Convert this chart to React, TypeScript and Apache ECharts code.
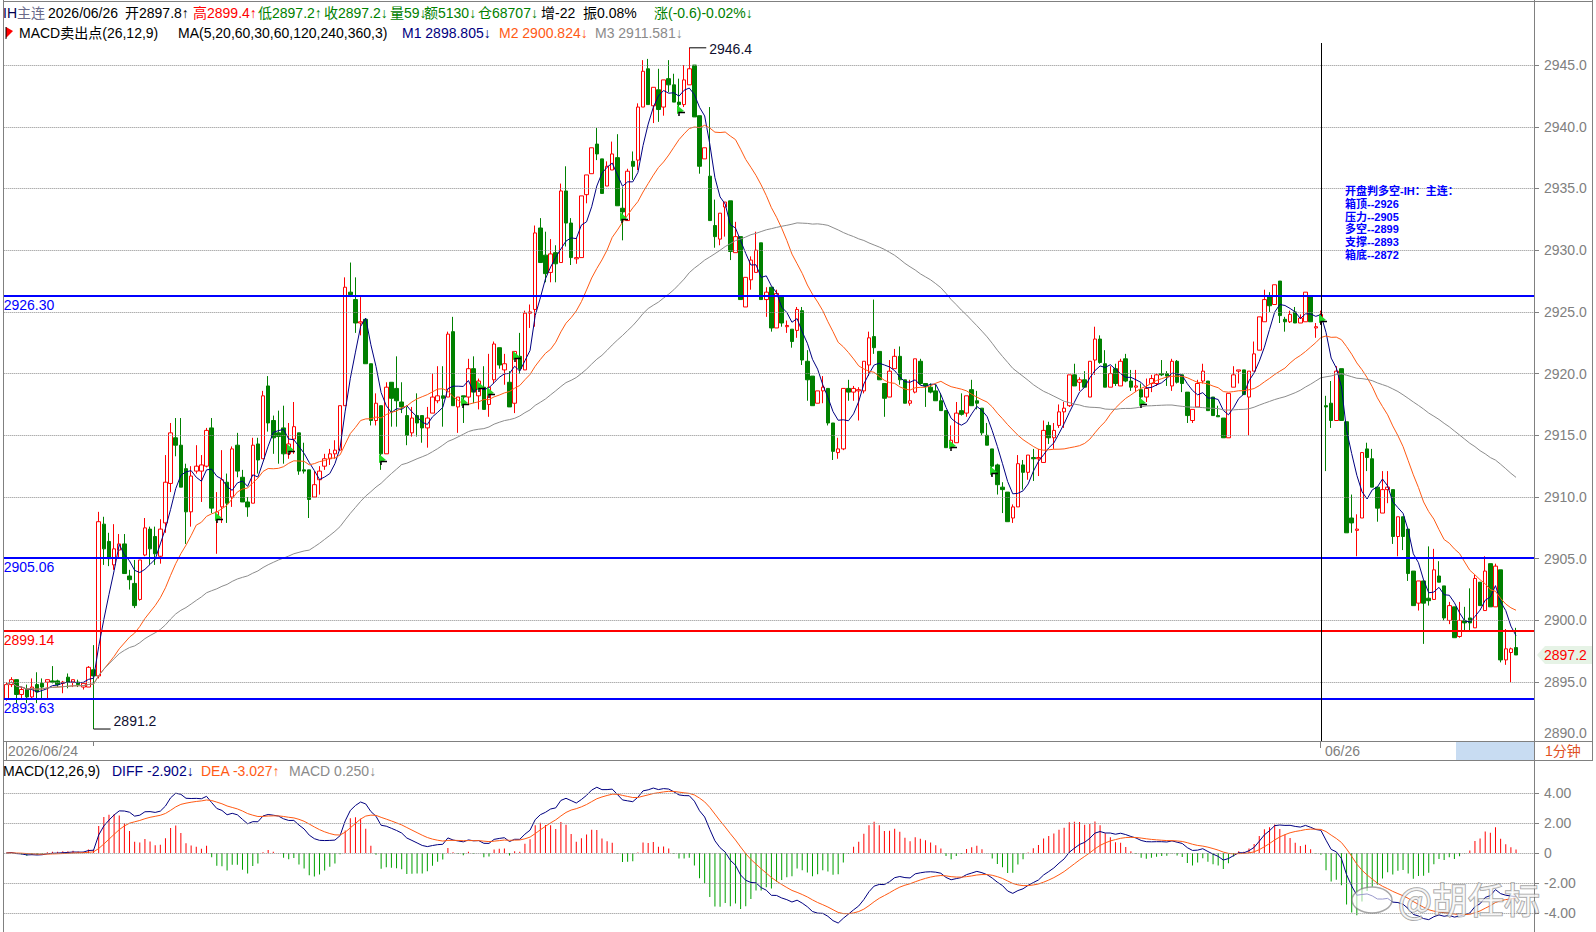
import React, { useEffect, useRef } from "react";
import * as echarts from "echarts";

// ---------- DATA ----------
const opens = [
2893.6,2894.8,2895.2,2894.0,2894.4,2893.8,2894.8,2894.9,2895.0,2895.1,
2895.1,2894.9,2895.4,2895.0,2895.0,2894.6,2894.6,2896.0,2895.5,2907.8,
2906.4,2904.5,2905.7,2906.2,2903.6,2903.0,2901.7,2905.3,2907.4,2906.8,
2905.2,2907.9,2911.1,2914.8,2914.2,2912.3,2908.8,2912.1,2912.1,2912.5,
2915.6,2908.4,2909.2,2911.2,2910.0,2914.2,2911.6,2909.6,2909.5,2914.3,
2913.1,2919.0,2916.2,2915.2,2915.6,2913.5,2914.7,2915.2,2912.2,2912.2,
2910.0,2911.4,2912.5,2913.1,2913.5,2913.8,2917.4,2926.6,2926.0,2924.1,
2924.4,2920.8,2916.2,2917.4,2913.5,2919.3,2918.8,2917.7,2916.6,2915.2,
2916.6,2916.6,2915.6,2916.8,2917.8,2918.2,2918.1,2923.4,2917.3,2918.2,
2918.1,2920.4,2918.2,2918.9,2917.5,2919.5,2922.1,2920.3,2919.3,2917.6,
2921.4,2920.3,2924.9,2925.2,2931.8,2929.6,2928.2,2929.8,2929.0,2934.8,
2932.2,2929.3,2929.4,2934.5,2936.2,2938.6,2937.4,2935.2,2936.5,2937.5,
2933.4,2932.4,2937.2,2937.3,2941.6,2944.7,2941.7,2943.0,2941.6,2943.9,
2943.4,2942.0,2941.8,2943.4,2945.0,2940.9,2937.4,2936.0,2932.0,2930.9,
2933.5,2934.0,2929.8,2931.1,2925.4,2927.6,2928.2,2930.6,2926.0,2927.0,
2923.7,2926.2,2923.8,2923.6,2923.5,2925.1,2921.0,2919.8,2917.6,2918.6,
2918.8,2916.0,2913.6,2913.9,2918.8,2918.5,2918.6,2918.6,2920.7,2923.0,
2921.8,2919.2,2918.1,2920.4,2921.4,2919.5,2917.6,2918.5,2921.0,2919.2,
2918.9,2918.6,2917.8,2917.0,2914.0,2914.4,2917.0,2916.8,2918.7,2917.8,
2917.2,2915.0,2913.9,2912.6,2910.8,2910.4,2908.3,2909.2,2912.6,2912.0,
2913.2,2913.1,2912.8,2915.8,2914.8,2915.8,2916.9,2917.4,2919.9,2919.3,
2919.5,2918.1,2921.1,2922.8,2920.8,2918.9,2920.4,2919.0,2921.2,2919.4,
2918.9,2918.7,2918.1,2919.2,2919.2,2920.0,2920.0,2919.0,2921.0,2919.9,
2918.5,2916.2,2917.3,2919.4,2919.4,2918.1,2916.6,2916.4,2914.8,2918.9,
2920.2,2920.3,2918.1,2920.2,2921.9,2924.2,2926.3,2925.6,2927.5,2924.4,
2924.2,2925.0,2924.1,2924.2,2926.3,2923.7,2924.2,2917.4,2917.6,2916.2,
2920.4,2916.1,2908.3,2907.3,2908.3,2913.9,2913.1,2910.8,2908.7,2910.6,
2910.6,2906.8,2908.4,2907.4,2904.0,2901.4,2903.2,2901.8,2901.7,2903.6,
2902.8,2900.0,2901.1,2898.7,2900.0,2900.2,2899.4,2903.1,2900.8,2904.6,
2901.1,2904.1,2896.8,2897.4,2897.8
];

const closes = [
2894.8,2895.2,2894.0,2894.4,2893.8,2894.6,2894.2,2894.6,2895.2,2895.0,
2894.8,2895.0,2895.0,2895.2,2894.8,2894.9,2896.2,2895.5,2908.0,2905.8,
2905.0,2905.8,2906.2,2903.8,2903.3,2901.2,2904.9,2907.5,2905.8,2905.4,
2907.4,2911.2,2915.2,2914.2,2910.8,2908.8,2911.7,2912.5,2912.6,2915.4,
2909.1,2908.8,2911.4,2909.5,2913.9,2912.1,2909.6,2909.2,2914.2,2913.0,
2918.2,2916.0,2914.8,2914.9,2913.5,2914.3,2915.7,2912.1,2912.1,2909.8,
2911.0,2912.1,2913.1,2913.5,2913.8,2917.4,2927.0,2926.4,2924.1,2924.2,
2920.8,2916.2,2917.6,2913.5,2918.9,2918.0,2917.8,2917.3,2915.0,2916.4,
2916.0,2915.6,2916.4,2918.1,2918.2,2918.0,2923.2,2917.4,2918.1,2918.1,
2920.4,2918.5,2919.4,2917.1,2918.9,2922.4,2920.7,2920.8,2917.3,2921.8,
2920.4,2924.9,2925.0,2931.4,2929.0,2928.1,2929.7,2928.9,2934.8,2932.2,
2929.4,2929.4,2934.4,2936.1,2938.3,2937.8,2934.6,2936.8,2937.8,2933.6,
2933.1,2936.4,2936.8,2941.6,2944.5,2941.8,2943.2,2941.4,2943.8,2943.4,
2942.0,2941.8,2943.8,2944.7,2940.8,2936.8,2938.3,2932.4,2931.1,2933.0,
2933.9,2929.9,2931.1,2926.0,2927.8,2929.2,2930.0,2926.0,2926.6,2923.7,
2926.5,2924.1,2923.9,2922.6,2925.2,2921.1,2919.5,2917.4,2918.6,2918.9,
2916.0,2913.7,2913.9,2918.8,2918.5,2918.8,2918.7,2921.0,2922.9,2922.1,
2919.5,2918.0,2920.2,2921.4,2919.5,2917.6,2917.8,2921.2,2919.2,2919.0,
2918.5,2917.8,2917.0,2914.0,2914.6,2916.8,2916.7,2918.2,2917.4,2917.6,
2915.2,2914.2,2912.5,2911.0,2910.6,2908.0,2909.2,2912.7,2912.0,2913.4,
2913.1,2913.2,2915.4,2914.8,2915.4,2916.9,2917.2,2919.9,2919.0,2919.5,
2918.9,2921.0,2922.8,2920.9,2918.9,2920.0,2919.2,2921.0,2919.4,2918.9,
2919.0,2918.1,2918.8,2919.6,2919.9,2919.9,2919.8,2921.0,2919.3,2919.2,
2916.6,2917.1,2919.2,2920.2,2917.0,2916.6,2916.5,2914.8,2918.4,2919.9,
2920.3,2918.3,2920.2,2921.6,2924.6,2926.0,2925.5,2927.2,2924.7,2924.2,
2924.8,2924.1,2924.5,2926.6,2924.2,2923.8,2924.8,2917.3,2916.2,2920.2,
2916.2,2907.1,2907.9,2907.4,2913.6,2913.2,2910.8,2909.1,2910.6,2910.8,
2906.8,2908.4,2906.8,2903.8,2901.2,2903.2,2901.4,2901.6,2904.1,2903.1,
2900.2,2901.2,2898.6,2900.0,2899.8,2899.8,2903.4,2901.2,2904.0,2901.1,
2904.4,2896.8,2897.7,2897.7,2897.2
];

const lows = [
2893.5,2894.6,2893.3,2893.7,2893.3,2893.7,2893.3,2893.7,2893.6,2894.9,
2894.6,2894.1,2894.5,2894.6,2894.6,2894.4,2894.6,2891.2,2895.3,2904.5,
2904.4,2904.1,2905.0,2903.8,2902.5,2901.0,2901.6,2905.2,2904.5,2904.5,
2904.6,2907.1,2910.4,2913.3,2910.8,2906.2,2907.6,2911.9,2909.6,2912.4,
2908.7,2905.4,2907.9,2907.9,2909.2,2911.6,2909.6,2908.4,2909.5,2911.9,
2913.1,2915.3,2913.5,2912.7,2912.7,2913.1,2913.5,2911.8,2911.9,2908.3,
2910.0,2910.2,2912.2,2912.6,2913.1,2913.8,2917.4,2926.2,2923.3,2923.1,
2920.8,2915.8,2915.8,2912.2,2913.5,2915.7,2915.7,2916.8,2914.2,2914.9,
2914.9,2914.4,2914.0,2916.8,2917.6,2915.7,2918.1,2917.4,2915.2,2916.0,
2917.5,2917.6,2917.1,2917.1,2916.5,2919.2,2920.4,2919.1,2917.3,2916.8,
2920.0,2920.3,2923.7,2923.8,2929.0,2927.4,2927.4,2927.4,2929.0,2930.3,
2928.8,2928.9,2929.4,2933.8,2936.2,2937.3,2934.6,2935.2,2936.5,2933.6,
2930.8,2932.4,2935.7,2936.5,2941.6,2941.8,2940.3,2940.4,2940.9,2942.8,
2942.0,2941.4,2941.6,2943.4,2940.8,2936.2,2937.4,2932.4,2930.2,2930.4,
2931.1,2929.2,2929.8,2926.0,2925.4,2926.8,2928.2,2926.0,2924.6,2923.4,
2923.7,2923.8,2923.3,2922.1,2922.9,2920.7,2917.8,2917.4,2917.6,2917.6,
2915.8,2913.0,2913.1,2913.8,2917.8,2917.8,2916.2,2918.4,2919.8,2921.6,
2919.5,2916.5,2918.1,2920.4,2919.1,2917.6,2917.4,2918.4,2919.1,2917.3,
2918.4,2917.8,2917.0,2914.0,2914.0,2914.4,2916.6,2916.5,2917.4,2917.1,
2915.0,2914.2,2911.7,2910.2,2908.7,2908.0,2907.9,2909.2,2910.6,2911.4,
2911.3,2911.7,2912.8,2914.3,2913.9,2915.6,2915.6,2917.3,2919.0,2918.6,
2918.9,2918.1,2919.9,2920.8,2918.9,2918.9,2919.0,2919.0,2919.3,2918.6,
2918.5,2917.7,2917.7,2918.5,2919.0,2919.8,2919.0,2918.6,2919.2,2918.5,
2916.0,2916.0,2917.3,2919.2,2917.0,2916.6,2916.5,2914.8,2914.8,2918.9,
2919.2,2918.3,2915.0,2920.2,2921.9,2924.2,2925.0,2925.6,2924.1,2923.4,
2924.1,2924.1,2924.1,2924.2,2924.2,2922.9,2924.0,2912.1,2915.6,2916.2,
2916.2,2907.1,2907.1,2905.2,2908.3,2912.1,2910.8,2908.0,2908.7,2909.5,
2906.2,2905.2,2905.7,2903.2,2901.2,2900.8,2898.1,2901.2,2901.7,2903.1,
2900.0,2899.7,2898.6,2898.6,2899.2,2899.1,2899.4,2901.2,2900.8,2901.1,
2901.1,2896.6,2896.4,2895.0,2897.2
];

const highs = [
2895.0,2895.4,2895.2,2894.6,2894.8,2895.3,2895.8,2895.3,2895.2,2896.3,
2895.2,2895.1,2895.7,2895.2,2895.2,2894.9,2896.3,2898.0,2908.8,2908.4,
2907.1,2907.8,2907.0,2907.0,2904.1,2904.9,2904.9,2908.3,2907.6,2907.6,
2908.2,2913.4,2916.0,2916.4,2916.4,2912.7,2912.5,2914.2,2913.4,2915.6,
2916.4,2910.4,2913.8,2911.9,2914.1,2915.2,2912.2,2910.0,2914.8,2914.8,
2918.6,2919.8,2916.6,2917.0,2917.4,2916.0,2917.7,2915.2,2914.4,2912.2,
2912.1,2912.5,2913.5,2913.9,2914.6,2917.4,2927.8,2929.0,2927.8,2926.2,
2924.5,2920.8,2918.4,2917.4,2919.3,2919.3,2921.4,2919.3,2917.3,2917.3,
2918.4,2916.6,2917.3,2920.0,2920.6,2920.6,2923.4,2924.6,2918.1,2918.2,
2921.2,2921.4,2919.6,2920.6,2921.6,2922.6,2922.1,2921.6,2920.2,2921.8,
2923.3,2925.1,2925.6,2932.0,2932.6,2931.5,2930.9,2930.4,2935.4,2936.8,
2932.6,2931.0,2934.4,2936.1,2938.3,2939.9,2937.4,2937.2,2938.8,2939.4,
2935.1,2936.6,2938.0,2941.9,2945.4,2945.5,2943.2,2944.7,2943.8,2945.4,
2944.3,2943.9,2945.0,2946.4,2945.0,2940.9,2938.3,2941.6,2934.1,2933.0,
2933.9,2934.0,2932.3,2931.1,2927.8,2929.5,2931.5,2930.6,2927.0,2927.0,
2926.8,2926.2,2924.3,2923.6,2925.4,2925.4,2921.9,2919.8,2918.6,2919.8,
2918.8,2916.0,2914.8,2918.8,2919.5,2919.0,2918.9,2921.0,2923.4,2926.0,
2921.8,2919.2,2921.1,2922.0,2922.2,2919.5,2919.5,2921.2,2921.2,2919.2,
2919.2,2919.1,2918.4,2917.0,2915.8,2917.7,2918.4,2918.2,2919.5,2918.6,
2917.2,2916.0,2913.9,2912.7,2911.2,2910.4,2909.4,2913.4,2913.0,2913.4,
2913.9,2913.9,2916.2,2916.1,2916.0,2917.5,2917.7,2919.9,2920.8,2919.7,
2920.2,2921.0,2923.8,2923.1,2921.9,2920.6,2920.8,2921.2,2921.6,2920.3,
2920.3,2919.2,2919.6,2919.9,2920.0,2921.1,2920.2,2921.2,2921.1,2919.9,
2918.5,2917.1,2919.5,2920.8,2919.4,2918.1,2917.4,2916.4,2918.4,2920.6,
2920.3,2920.3,2920.2,2922.6,2924.6,2926.8,2926.6,2927.2,2927.5,2924.6,
2925.1,2925.4,2924.8,2926.6,2926.3,2924.1,2925.1,2918.2,2919.4,2920.6,
2920.4,2916.1,2910.2,2908.6,2913.6,2914.4,2913.9,2910.8,2912.1,2912.1,
2910.6,2908.4,2908.4,2907.4,2904.0,2903.2,2903.2,2906.0,2905.8,2904.8,
2902.8,2901.5,2901.1,2901.5,2901.1,2902.6,2903.7,2903.1,2905.2,2904.6,
2904.6,2904.1,2899.3,2897.8,2899.4
];

const N_SLOTS = 298; // 295 bars + empty space at the right edge
const categories = Array.from({ length: N_SLOTS }, (_, i) => String(i));
const priceTicks = [2895, 2900, 2905, 2910, 2915, 2920, 2925, 2930, 2935, 2940, 2945];
const macdTicks = [-4, -2, 0, 2, 4];
const levelValues = [2926.30, 2905.06, 2899.14, 2893.63];
const levelColors = ["#0000ff", "#0000ff", "#ff0000", "#0000ff"];
const sellSignals = [41, 55, 73, 89, 92, 94, 99, 120, 131, 184, 192, 221, 256];
const dayBreakIndex = 256;
const boxLines = ["开盘判多空-IH：主连：", "箱顶--2926", "压力--2905", "多空--2899", "支撑--2893", "箱底--2872"];
// header segments: text, colour, left position
const headerTexts = ["IH", "主连", "2026/06/26", "开2897.8↑", "高2899.4↑", "低2897.2↑", "收2897.2↓", "量59↓", "额5130↓", "仓68707↓", "增-22", "振0.08%", "涨(-0.6)-0.02%↓"];
const headerColors = ["#000050", "#6a6a8a", "#000000", "#000000", "#ff0000", "#008000", "#008000", "#008000", "#008000", "#008000", "#000000", "#000000", "#008000"];
const headerX = [3, 17, 48, 125, 193, 258, 324, 390, 424, 478, 541, 583, 654];

// ---------- indicators derived from the data ----------
function sma(src: number[], n: number) {
  return src.map((_, i) => {
    const s = Math.max(0, i - n + 1);
    let sum = 0;
    for (let k = s; k <= i; k++) sum += src[k];
    return +(sum / (i - s + 1)).toFixed(3);
  });
}
function ema(src: number[], n: number) {
  const a = 2 / (n + 1);
  const out: number[] = [];
  src.forEach((v, i) => out.push(i === 0 ? v : a * v + (1 - a) * out[i - 1]));
  return out;
}
const ma5 = sma(closes, 5);
const ma20 = sma(closes, 20);
const ma60 = sma(closes, 60);
const e12 = ema(closes, 12);
const e26 = ema(closes, 26);
const diff = e12.map((v, i) => v - e26[i]);
const dea = ema(diff, 9);
const macd = diff.map((v, i) => 2 * (v - dea[i]));

const FONT = 'Arial, "Liberation Sans", "Noto Sans CJK SC", sans-serif';
const F14 = `14px ${FONT}`;

const hiIdx = highs.indexOf(Math.max(...highs));
const loIdx = lows.indexOf(Math.min(...lows));
const lastIdx = closes.length - 1;

function renderAnnot(params: any, api: any) {
  const cs = params.coordSys;
  const right = cs.x + cs.width;
  const hp = api.coord([hiIdx, highs[hiIdx]]);
  const lp = api.coord([loIdx, lows[loIdx]]);
  const cp = api.coord([lastIdx, closes[lastIdx]]);
  const y = Math.round(cp[1]);
  return {
    type: "group",
    children: [
      { type: "line", shape: { x1: hp[0], y1: hp[1], x2: hp[0] + 17, y2: hp[1] }, style: { stroke: "#000", lineWidth: 1 } },
      { type: "text", style: { x: hp[0] + 20, y: hp[1] + 1, text: highs[hiIdx].toFixed(1), fill: "#101030", font: F14, verticalAlign: "middle" } },
      { type: "line", shape: { x1: lp[0], y1: lp[1], x2: lp[0] + 17, y2: lp[1] }, style: { stroke: "#000", lineWidth: 1 } },
      { type: "text", style: { x: lp[0] + 20, y: lp[1] - 1, text: lows[loIdx].toFixed(1), fill: "#101030", font: F14, verticalAlign: "bottom" } },
      { type: "polygon", shape: { points: [[right + 3, y], [right + 11, y - 9], [right + 58, y - 9], [right + 58, y + 9], [right + 11, y + 9]] }, style: { fill: "#e6f3e6" } },
      { type: "text", style: { x: right + 10, y: y, text: closes[lastIdx].toFixed(1), fill: "#ff0000", font: F14, verticalAlign: "middle" } },
    ],
  };
}

function renderSell(params: any, api: any) {
  const p = api.coord([api.value(0), api.value(1)]);
  const x = Math.round(p[0]) - 2;
  const y = Math.round(p[1]);
  return {
    type: "group",
    children: [
      { type: "polygon", shape: { points: [[x, y], [x, y + 9], [x + 7, y + 6]] }, style: { fill: "#22d822" } },
      { type: "polyline", shape: { points: [[x + 2, y + 11], [x + 2, y + 7.5], [x + 8, y + 7.5]] }, style: { stroke: "#000", lineWidth: 1.5, fill: null } },
    ],
  };
}

function buildOption() {
  const dotted = priceTicks.map((v) => ({
    yAxis: v,
    lineStyle: { color: "#8c8c8c", type: "dotted", width: 1 },
    label: { show: false },
  }));
  const levels = levelValues.map((v, i) => ({
    yAxis: v,
    lineStyle: { color: levelColors[i], type: "solid", width: 2 },
    label: {
      show: true,
      position: "insideStartBottom",
      formatter: v.toFixed(2),
      color: levelColors[i],
      fontSize: 14,
      fontFamily: FONT,
      distance: [0, 2],
    },
  }));
  const macdDotted = macdTicks.map((v) => ({
    yAxis: v,
    lineStyle: { color: "#8c8c8c", type: "dotted", width: 1 },
    label: { show: false },
  }));

  const graphic: any[] = [];
  const gl = (x1: number, y1: number, x2: number, y2: number, c = "#808080") =>
    graphic.push({ type: "line", silent: true, shape: { x1, y1, x2, y2 }, style: { stroke: c, lineWidth: 1 }, z: 50 });
  // frame
  gl(3.5, 0, 3.5, 932);
  gl(1534.5, 0, 1534.5, 932);
  gl(1592.5, 0, 1592.5, 760);
  gl(3, 1.5, 1593, 1.5);
  gl(3, 741.5, 1593, 741.5);
  gl(3, 760.5, 1593, 760.5);
  gl(6.5, 742, 6.5, 760);
  gl(93.5, 742, 93.5, 746);
  gl(1320.5, 742, 1320.5, 748);
  graphic.push({ type: "rect", silent: true, shape: { x: 1456, y: 742, width: 78, height: 18 }, style: { fill: "#c8dcf2" }, z: 49 });
  const txt = (x: number, y: number, text: string, fill: string, font = F14, extra: any = {}) =>
    graphic.push({ type: "text", silent: true, x, y, style: { text, fill, font, verticalAlign: "middle", ...extra }, z: 60 });
  txt(8, 751, "2026/06/24", "#808080");
  txt(1325, 751, "06/26", "#808080");
  txt(1545, 751, "1分钟", "#e0501e");
  txt(1544, 733, "2890.0", "#808080");

  // header line 1
  headerTexts.forEach((s, i) => txt(headerX[i], 13, s, headerColors[i]));
  // header line 2
  graphic.push({ type: "polygon", silent: true, z: 60, shape: { points: [[6, 27], [6, 38], [13, 31]] }, style: { fill: "#ff0000" } });
  graphic.push({ type: "line", silent: true, z: 60, shape: { x1: 6, y1: 27, x2: 6, y2: 39 }, style: { stroke: "#000", lineWidth: 1 } });
  txt(19, 33, "MACD卖出点(26,12,9)", "#000000");
  txt(178, 33, "MA(5,20,60,30,60,120,240,360,3)", "#000000");
  txt(402, 33, "M1 2898.805↓", "#000080");
  txt(499, 33, "M2 2900.824↓", "#ff5a14");
  txt(595, 33, "M3 2911.581↓", "#8a8a8a");
  // MACD legend
  txt(3, 771, "MACD(12,26,9)", "#000000");
  txt(112, 771, "DIFF -2.902↓", "#000080");
  txt(201, 771, "DEA -3.027↑", "#ff5a14");
  txt(289, 771, "MACD 0.250↓", "#8a8a8a");
  // information box
  boxLines.forEach((s, i) =>
    txt(1345, 191 + i * 12.8, s, "#0000ff", `bold 11px Arial, "Liberation Sans", "Noto Sans CJK SC", sans-serif`)
  );
  // watermark
  graphic.push({
    type: "ellipse",
    silent: true,
    z: 70,
    shape: { cx: 1372, cy: 900, rx: 20, ry: 13 },
    style: { fill: "rgba(255,255,255,0.6)", stroke: "rgba(110,110,110,0.6)", lineWidth: 1.5 },
  });
  graphic.push({
    type: "text",
    silent: true,
    x: 1398,
    y: 898,
    z: 70,
    style: {
      text: "@胡任标",
      font: `36px "Noto Sans CJK SC", sans-serif`,
      fill: "rgba(255,255,255,0.72)",
      stroke: "rgba(100,100,100,0.6)",
      lineWidth: 1.5,
      verticalAlign: "middle",
    },
  });

  return {
    animation: false,
    backgroundColor: "#ffffff",
    grid: [
      { left: 3.7, right: 62, top: 43, height: 698 },
      { left: 3.7, right: 62, top: 762, height: 170 },
    ],
    xAxis: [0, 1].map((g) => ({
      type: "category",
      gridIndex: g,
      data: categories,
      boundaryGap: true,
      axisLine: { show: false },
      axisTick: { show: false },
      axisLabel: { show: false },
      splitLine: { show: false },
    })),
    yAxis: [
      {
        type: "value",
        gridIndex: 0,
        position: "right",
        min: 2890.23,
        max: 2946.79,
        splitLine: { show: false },
        axisLine: { show: false },
        axisTick: { show: true, customValues: priceTicks, length: 5, lineStyle: { color: "#808080" } },
        axisLabel: {
          customValues: priceTicks,
          formatter: (v: number) => v.toFixed(1),
          color: "#808080",
          fontSize: 14,
          fontFamily: FONT,
          margin: 10,
        },
      },
      {
        type: "value",
        gridIndex: 1,
        position: "right",
        min: -5.27,
        max: 6.07,
        splitLine: { show: false },
        axisLine: { show: false },
        axisTick: { show: true, customValues: macdTicks, length: 5, lineStyle: { color: "#808080" } },
        axisLabel: {
          customValues: macdTicks,
          formatter: (v: number) => (v === 0 ? "0" : v.toFixed(2)),
          color: "#808080",
          fontSize: 14,
          fontFamily: FONT,
          margin: 10,
        },
      },
    ],
    series: [
      {
        name: "grid-main",
        type: "line",
        xAxisIndex: 0,
        yAxisIndex: 0,
        data: [],
        z: 1,
        silent: true,
        markLine: { symbol: ["none", "none"], silent: true, animation: false, data: dotted },
      },
      {
        name: "grid-macd",
        type: "line",
        xAxisIndex: 1,
        yAxisIndex: 1,
        data: [],
        z: 1,
        silent: true,
        markLine: { symbol: ["none", "none"], silent: true, animation: false, data: macdDotted },
      },
      {
        name: "K",
        type: "candlestick",
        xAxisIndex: 0,
        yAxisIndex: 0,
        z: 3,
        barWidth: 4,
        data: opens.map((o, i) => [o, closes[i], lows[i], highs[i]]),
        itemStyle: {
          color: "#ffffff",
          color0: "#008000",
          borderColor: "#ff0000",
          borderColor0: "#008000",
          borderWidth: 1,
        },
        markLine: {
          symbol: ["none", "none"],
          silent: true,
          animation: false,
          data: [
            ...levels,
            {
              xAxis: String(dayBreakIndex),
              lineStyle: { color: "#000000", type: "solid", width: 1 },
              label: { show: false },
            },
          ],
        },
      },
      { name: "MA5", type: "line", xAxisIndex: 0, yAxisIndex: 0, z: 4, data: ma5, showSymbol: false, symbol: "none", lineStyle: { color: "#000080", width: 1 } },
      { name: "MA20", type: "line", xAxisIndex: 0, yAxisIndex: 0, z: 4, data: ma20, showSymbol: false, symbol: "none", lineStyle: { color: "#ff5a14", width: 1 } },
      { name: "MA60", type: "line", xAxisIndex: 0, yAxisIndex: 0, z: 4, data: ma60, showSymbol: false, symbol: "none", lineStyle: { color: "#8c8c8c", width: 1 } },
      {
        name: "sell",
        type: "custom",
        xAxisIndex: 0,
        yAxisIndex: 0,
        z: 6,
        clip: false,
        data: sellSignals.map((i) => [i, closes[i]]),
        renderItem: renderSell,
      },
      {
        name: "annot",
        type: "custom",
        xAxisIndex: 0,
        yAxisIndex: 0,
        z: 7,
        clip: false,
        data: [[hiIdx, highs[hiIdx]]],
        renderItem: renderAnnot,
      },
      {
        name: "MACD",
        type: "bar",
        xAxisIndex: 1,
        yAxisIndex: 1,
        barWidth: 1,
        z: 3,
        data: macd.map((v) => ({ value: +v.toFixed(4), itemStyle: { color: v >= 0 ? "#ff0000" : "#00a000" } })),
      },
      { name: "DIFF", type: "line", xAxisIndex: 1, yAxisIndex: 1, z: 4, data: diff.map((v) => +v.toFixed(4)), showSymbol: false, symbol: "none", lineStyle: { color: "#000080", width: 1 } },
      { name: "DEA", type: "line", xAxisIndex: 1, yAxisIndex: 1, z: 4, data: dea.map((v) => +v.toFixed(4)), showSymbol: false, symbol: "none", lineStyle: { color: "#ff5a14", width: 1 } },
    ],
    graphic,
  };
}

export default function App() {
  const ref = useRef<HTMLDivElement>(null);
  useEffect(() => {
    document.body.style.margin = "0";
    if (!ref.current) return;
    const chart = echarts.init(ref.current, null, { renderer: "svg" });
    chart.setOption(buildOption() as any);
    return () => chart.dispose();
  }, []);
  return (
    <div
      ref={ref}
      style={{ position: "absolute", left: 0, top: 0, width: 1596, height: 932, background: "#ffffff" }}
    />
  );
}
